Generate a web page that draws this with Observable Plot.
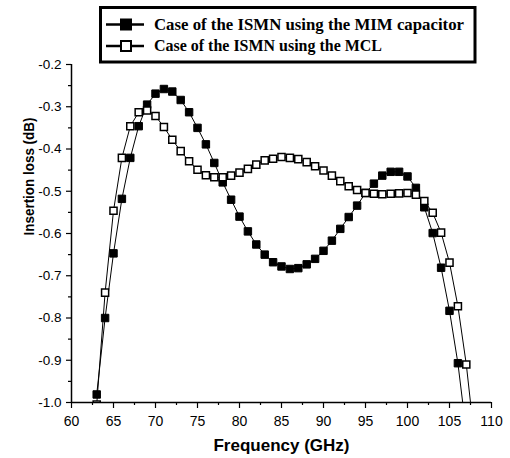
<!DOCTYPE html>
<html><head><meta charset="utf-8">
<script src="https://cdn.jsdelivr.net/npm/d3@7"></script>
<script src="https://cdn.jsdelivr.net/npm/@observablehq/plot@0.6"></script>
<style>
html,body{margin:0;padding:0;background:#fff;}
#wrap{position:relative;width:510px;height:458px;}
#legend{position:absolute;left:0;top:0;}
</style></head><body>
<div id="wrap"></div>
<script>
const frequencyMIM = [63,64,65,66,67,68,69,70,71,72,73,74,75,76,77,78,79,80,81,82,83,84,85,86,87,88,89,90,91,92,93,94,95,96,97,98,99,100,101,102,103,104,105,106,107];
const lossMIM = [-0.981,-0.800,-0.647,-0.518,-0.421,-0.346,-0.295,-0.269,-0.258,-0.264,-0.284,-0.313,-0.350,-0.389,-0.433,-0.479,-0.520,-0.560,-0.595,-0.626,-0.650,-0.668,-0.678,-0.684,-0.682,-0.673,-0.660,-0.641,-0.617,-0.589,-0.561,-0.534,-0.504,-0.482,-0.463,-0.454,-0.454,-0.465,-0.492,-0.538,-0.599,-0.681,-0.783,-0.907,-1.07];
const frequencyMCL = [63,64,65,66,67,68,69,70,71,72,73,74,75,76,77,78,79,80,81,82,83,84,85,86,87,88,89,90,91,92,93,94,95,96,97,98,99,100,101,102,103,104,105,106,107,108];
const lossMCL = [-1.005,-0.740,-0.546,-0.421,-0.346,-0.313,-0.309,-0.322,-0.348,-0.378,-0.405,-0.429,-0.449,-0.462,-0.467,-0.467,-0.463,-0.456,-0.447,-0.437,-0.427,-0.423,-0.419,-0.421,-0.424,-0.431,-0.441,-0.451,-0.463,-0.476,-0.488,-0.497,-0.504,-0.506,-0.507,-0.506,-0.505,-0.504,-0.508,-0.523,-0.551,-0.598,-0.669,-0.772,-0.910,-1.09];
const xTickValues = [60,65,70,75,80,85,90,95,100,105,110];
const xMinorTicks = [62.5,67.5,72.5,77.5,82.5,87.5,92.5,97.5,102.5,107.5];
const yTickValues = [-1.0,-0.9,-0.8,-0.7,-0.6,-0.5,-0.4,-0.3,-0.2];
const yMinorTicks = [-0.95,-0.85,-0.75,-0.65,-0.55,-0.45,-0.35,-0.25];
const seriesNames = ["Case of the ISMN using the MIM capacitor","Case of the ISMN using the MCL"];
const xTitle = "Frequency (GHz)";
const yTitle = "Insertion loss (dB)";

const mim = frequencyMIM.map((f,i)=>({f, v: lossMIM[i]}));
const mcl = frequencyMCL.map((f,i)=>({f, v: lossMCL[i]}));

const chart = Plot.plot({
  width: 510, height: 458,
  marginLeft: 71, marginRight: 19, marginTop: 64, marginBottom: 56,
  x: {domain: [60,110]},
  y: {domain: [-1.0,-0.2]},
  style: {fontFamily: "'Liberation Sans', Arial, sans-serif", color: "#000", background: "#fff", overflow: "visible"},
  marks: [
    Plot.axisX(xTickValues, {tickSize: 6, tickPadding: 8, tickFormat: d => String(d), fontSize: 14, label: null, strokeWidth: 1.2}),
    Plot.axisX(xMinorTicks, {tickSize: 3, tickFormat: () => "", label: null, strokeWidth: 1.2}),
    Plot.axisY(yTickValues, {tickSize: 5, tickPadding: 5, tickFormat: d => d.toFixed(1), fontSize: 13.5, label: null, strokeWidth: 1.2}),
    Plot.axisY(yMinorTicks, {tickSize: 3, tickFormat: () => "", label: null, strokeWidth: 1.2}),
    Plot.ruleX([60], {strokeWidth: 1.5}),
    Plot.ruleY([-1.0], {strokeWidth: 1.5}),
    Plot.line(mim, {x: "f", y: "v", stroke: "black", strokeWidth: 1, clip: true}),
    Plot.dot(mim, {x: "f", y: "v", symbol: "square", r: 4.2, fill: "black", stroke: "black", strokeWidth: 1, clip: true}),
    Plot.line(mcl, {x: "f", y: "v", stroke: "black", strokeWidth: 1, clip: true}),
    Plot.dot(mcl, {x: "f", y: "v", symbol: "square", r: 4.0, fill: "white", stroke: "black", strokeWidth: 1.5, clip: true}),
    Plot.text([xTitle], {frameAnchor: "bottom", lineAnchor: "middle", dy: 43, fontSize: 17, fontWeight: "bold"}),
    Plot.text([yTitle], {frameAnchor: "left", lineAnchor: "middle", rotate: -90, dx: -42, dy: 2, fontSize: 15.5, fontWeight: "bold"})
  ]
});
const wrap = document.getElementById("wrap");
wrap.appendChild(chart);

// stretch the y title to the reference length
d3.select(chart).selectAll("text").filter(function(){ return this.textContent === yTitle; })
  .attr("textLength", 118).attr("lengthAdjust", "spacingAndGlyphs");

// legend overlay
const lg = d3.create("svg").attr("id","legend").attr("width",510).attr("height",70);
lg.append("rect").attr("x",100.5).attr("y",7.5).attr("width",374.5).attr("height",54.5)
  .attr("fill","white").attr("stroke","black").attr("stroke-width",3);
const rowY = [24.5, 46];
const textLen = [310, 228];
seriesNames.forEach((name,i)=>{
  const g = lg.append("g");
  g.append("line").attr("x1",106).attr("x2",144).attr("y1",rowY[i]).attr("y2",rowY[i]).attr("stroke","black").attr("stroke-width",2.5);
  g.append("rect").attr("x",121).attr("y",rowY[i]-5).attr("width",10).attr("height",10)
    .attr("fill", i===0 ? "black" : "white").attr("stroke","black").attr("stroke-width",2);
  g.append("text").attr("x",154).attr("y",rowY[i]+5.2)
    .attr("font-family","'Liberation Serif', 'Times New Roman', serif").attr("font-weight","bold").attr("font-size",16.5)
    .attr("textLength",textLen[i]).attr("lengthAdjust","spacingAndGlyphs").text(name);
});
wrap.appendChild(lg.node());
</script>
</body></html>
